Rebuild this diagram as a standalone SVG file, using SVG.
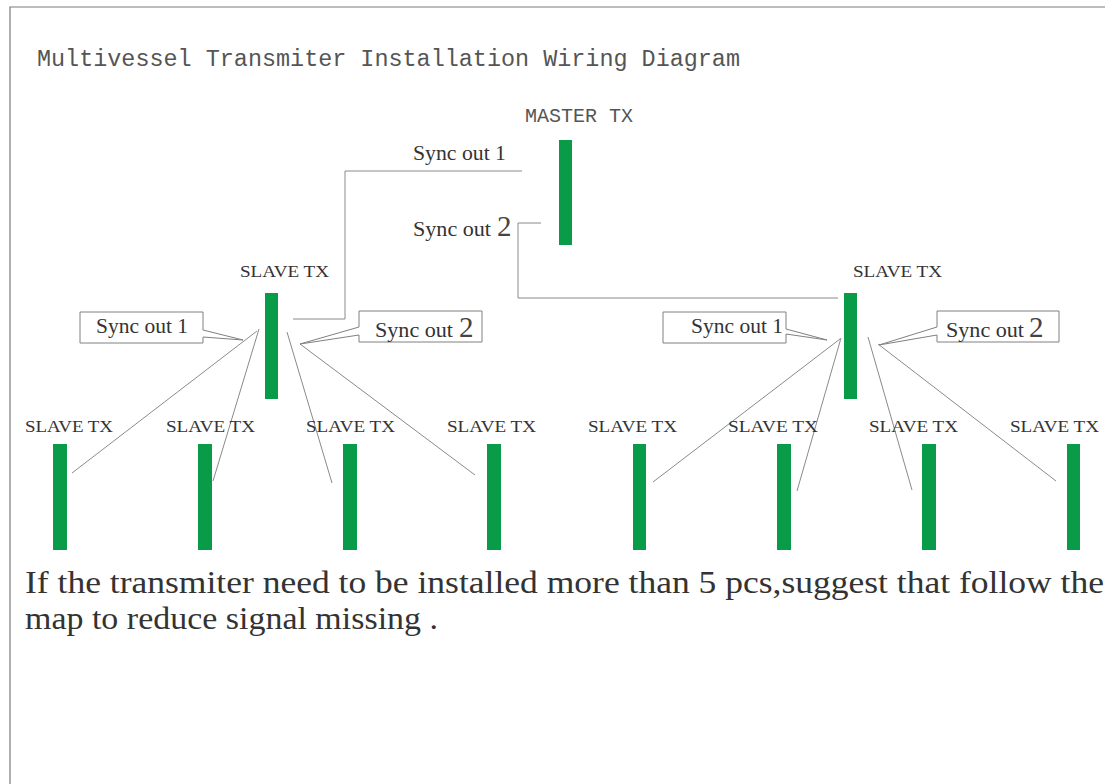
<svg xmlns="http://www.w3.org/2000/svg" width="1105" height="784" viewBox="0 0 1105 784">
<style>
.bar{fill:#0a9b48}
.wire{stroke:#8a8a8a;stroke-width:1;fill:none}
.frame{stroke:#7a7a7a;stroke-width:1.2;fill:none}
.call{fill:#fff;stroke:#808080;stroke-width:1}
.mono{font-family:"Liberation Mono",monospace;fill:#555}
.lbl{font-family:"Liberation Serif",serif;font-size:17px;fill:#333}
.sync{font-family:"Liberation Serif",serif;font-size:20px;fill:#333}
.big{font-family:"Liberation Serif",serif;font-size:29px;fill:#444}
.note{font-family:"Liberation Serif",serif;font-size:32px;fill:#333}
</style>
<rect width="1105" height="784" fill="#fff"/>
<path class="frame" d="M10,784 V7 H1105"/>
<text class="mono" x="37" y="66" font-size="23" textLength="703" lengthAdjust="spacingAndGlyphs">Multivessel  Transmiter Installation Wiring Diagram</text>

<g id="connectors">
<path class="wire" d="M522,171 H345 V319 H293"/>
<path class="wire" d="M541,223 H518 V298 H838"/>
<line class="wire" x1="257" y1="331" x2="72" y2="473"/>
<line class="wire" x1="259" y1="329" x2="213" y2="481"/>
<line class="wire" x1="287" y1="332" x2="332" y2="483"/>
<line class="wire" x1="300" y1="344" x2="475" y2="475"/>
<line class="wire" x1="840" y1="339" x2="653" y2="482"/>
<line class="wire" x1="841" y1="338" x2="797" y2="491"/>
<line class="wire" x1="868" y1="337" x2="912" y2="490"/>
<line class="wire" x1="878" y1="344" x2="1056" y2="481"/>
</g>

<g id="master">
<text class="mono" x="525" y="122" font-size="21" textLength="108" lengthAdjust="spacingAndGlyphs">MASTER TX</text>
<rect class="bar" x="559" y="140" width="13" height="105"/>
<text class="sync" x="413" y="160" textLength="93" lengthAdjust="spacingAndGlyphs">Sync out 1</text>
<text class="sync" x="413" y="236" textLength="78" lengthAdjust="spacingAndGlyphs">Sync out</text>
<text class="big" x="497" y="236">2</text>
</g>

<g id="slave-left">
<text class="lbl" x="240" y="277" textLength="89" lengthAdjust="spacingAndGlyphs">SLAVE TX</text>
<rect class="bar" x="265" y="293" width="13" height="106"/>
</g>
<g id="callout-left-1">
<path class="call" d="M80,312 H203 V330 L243,340 L203,337 V343 H80 Z"/>
<text class="sync" x="96" y="333" textLength="92" lengthAdjust="spacingAndGlyphs">Sync out 1</text>
</g>
<g id="callout-left-2">
<path class="call" d="M359,311 H482 V342 H359 V335 L300,344 L359,327 Z"/>
<text class="sync" x="375" y="337" textLength="78" lengthAdjust="spacingAndGlyphs">Sync out</text>
<text class="big" x="459" y="337">2</text>
</g>

<g id="slave-right">
<text class="lbl" x="853" y="277" textLength="89" lengthAdjust="spacingAndGlyphs">SLAVE TX</text>
<rect class="bar" x="844" y="293" width="13" height="106"/>
</g>
<g id="callout-right-1">
<path class="call" d="M663,312 H786 V329 L827,340 L786,334 V343 H663 Z"/>
<text class="sync" x="691" y="333" textLength="92" lengthAdjust="spacingAndGlyphs">Sync out 1</text>
</g>
<g id="callout-right-2">
<path class="call" d="M937,311 H1059 V342 H937 V335 L879,345 L937,327 Z"/>
<text class="sync" x="946" y="337" textLength="78" lengthAdjust="spacingAndGlyphs">Sync out</text>
<text class="big" x="1029" y="337">2</text>
</g>

<g id="slave-1"><text class="lbl" x="25" y="432" textLength="88" lengthAdjust="spacingAndGlyphs">SLAVE TX</text><rect class="bar" x="53" y="444" width="14" height="106"/></g>
<g id="slave-2"><text class="lbl" x="166" y="432" textLength="89" lengthAdjust="spacingAndGlyphs">SLAVE TX</text><rect class="bar" x="198" y="444" width="14" height="106"/></g>
<g id="slave-3"><text class="lbl" x="306" y="432" textLength="89" lengthAdjust="spacingAndGlyphs">SLAVE TX</text><rect class="bar" x="343" y="444" width="14" height="106"/></g>
<g id="slave-4"><text class="lbl" x="447" y="432" textLength="89" lengthAdjust="spacingAndGlyphs">SLAVE TX</text><rect class="bar" x="487" y="444" width="14" height="106"/></g>
<g id="slave-5"><text class="lbl" x="588" y="432" textLength="89" lengthAdjust="spacingAndGlyphs">SLAVE TX</text><rect class="bar" x="633" y="444" width="13" height="106"/></g>
<g id="slave-6"><text class="lbl" x="728" y="432" textLength="90" lengthAdjust="spacingAndGlyphs">SLAVE TX</text><rect class="bar" x="777" y="444" width="14" height="106"/></g>
<g id="slave-7"><text class="lbl" x="869" y="432" textLength="89" lengthAdjust="spacingAndGlyphs">SLAVE TX</text><rect class="bar" x="922" y="444" width="14" height="106"/></g>
<g id="slave-8"><text class="lbl" x="1010" y="432" textLength="89" lengthAdjust="spacingAndGlyphs">SLAVE TX</text><rect class="bar" x="1067" y="444" width="13" height="106"/></g>

<text class="note" x="25" y="593" textLength="1079" lengthAdjust="spacingAndGlyphs">If the transmiter need to be installed more than 5 pcs,suggest that follow the</text>
<text class="note" x="25" y="629" textLength="413" lengthAdjust="spacingAndGlyphs">map to reduce signal missing .</text>
</svg>
